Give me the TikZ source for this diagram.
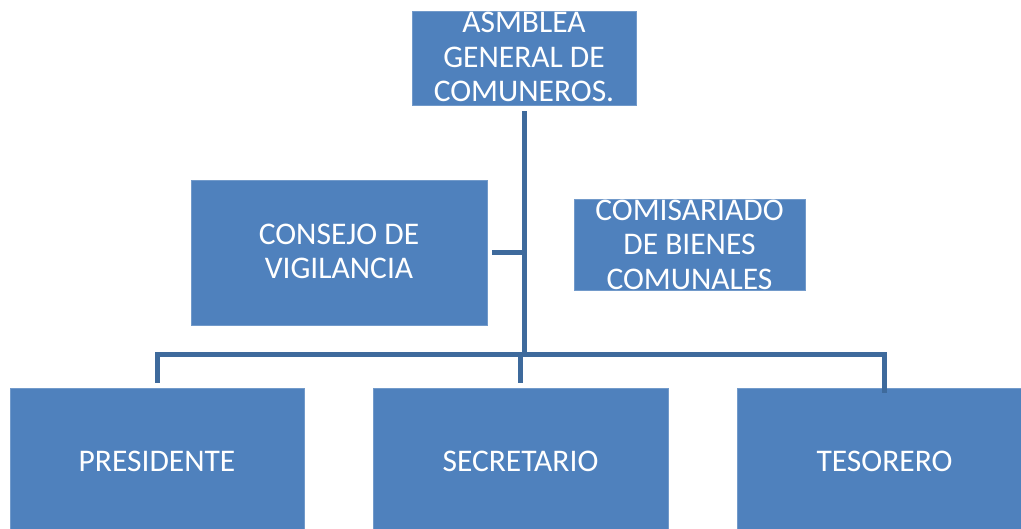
\documentclass[tikz,border=0pt]{standalone}
\usepackage{fontspec}
\setmainfont{Carlito}
\definecolor{boxblue}{HTML}{4F81BD}
\definecolor{linkblue}{HTML}{3E6A9C}
\begin{document}
\begin{tikzpicture}[x=1pt,y=-1pt,
  orgbox/.style={fill=boxblue,draw=boxblue!80!white,line width=0.6pt,inner sep=0pt,minimum width=#1},
  lbl/.style={text=white,font=\fontsize{31.5}{34.5}\selectfont,align=center},
  link/.style={draw=linkblue,line width=5pt,line join=miter}]
\useasboundingbox (0,0) rectangle (1021,529);
\begin{scope}
\clip (0,0) rectangle (1021,529);
\node[orgbox=224pt,minimum height=94pt] (asam) at (524,58) {};
\node[orgbox=296pt,minimum height=145pt] (cons) at (339,252.5) {};
\node[orgbox=231pt,minimum height=91pt] (comi) at (689.5,244.5) {};
\node[orgbox=294pt,minimum height=150pt] (pres) at (157,463) {};
\node[orgbox=295pt,minimum height=150pt] (secr) at (520.5,463) {};
\node[orgbox=295pt,minimum height=150pt] (teso) at (884.5,463) {};
\end{scope}
\node[lbl] (asamt) at ([yshift=1pt]asam.center) {ASMBLEA\\GENERAL DE\\COMUNEROS.};
\node[lbl] (const) at ([yshift=1pt]cons.center) {CONSEJO DE\\VIGILANCIA};
\node[lbl] (comit) at ([yshift=0pt]comi.center) {COMISARIADO\\DE BIENES\\COMUNALES};
\node[lbl] (prest) at ([yshift=2pt]pres.center) {PRESIDENTE};
\node[lbl] (secrt) at ([yshift=2pt]secr.center) {SECRETARIO};
\node[lbl] (tesot) at ([yshift=2pt]teso.center) {TESORERO};
\coordinate (bus) at (524,354.5);
\draw[link,shorten <=6pt] (asam.south) -- (asam.south |- bus);
\draw[link,shorten <=5pt] (pres.north) -- (pres.north |- bus) -- (teso.north |- bus) -- ([yshift=-5pt]teso.north);
\draw[link,shorten <=5pt] (secr.north) -- (secr.north |- bus);
\draw[link,shorten <=5pt] (cons.east |- 0,253) -- (asam.south |- 0,253);
\end{tikzpicture}
\end{document}
